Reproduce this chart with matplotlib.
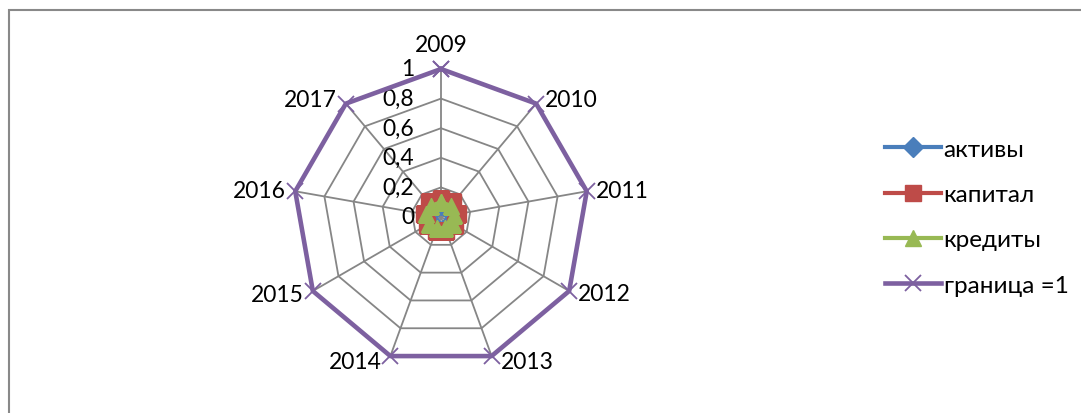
import numpy as np
import matplotlib.pyplot as plt
from matplotlib.patches import Rectangle

years = ["2009", "2010", "2011", "2012", "2013", "2014", "2015", "2016", "2017"]
aktivy = [0.08, 0.08, 0.08, 0.08, 0.08, 0.08, 0.08, 0.08, 0.08]
kapital = [0.12, 0.13, 0.12, 0.11, 0.1, 0.1, 0.11, 0.12, 0.13]
kredity = [0.1, 0.1, 0.09, 0.09, 0.08, 0.08, 0.09, 0.1, 0.1]
granica = [1, 1, 1, 1, 1, 1, 1, 1, 1]
r_ticks = [0, 0.2, 0.4, 0.6, 0.8, 1]
r_labels = ["0", "0,2", "0,4", "0,6", "0,8", "1"]

plt.rcParams['font.family'] = ['Lato', 'DejaVu Sans']
fs = 16.5

fig = plt.figure(figsize=(10.81, 4.14), dpi=100)
fig.patches.append(Rectangle((9 / 1081, -0.05), 1.1, 1.05 - 11 / 414 + 0.001,
                             transform=fig.transFigure, fill=False,
                             edgecolor='#898989', lw=1.5))

ax = fig.add_axes([293 / 1081, 48 / 414, 296 / 1081, 296 / 414], projection='polar')
ax.set_theta_zero_location('N')
ax.set_theta_direction(-1)
ax.set_ylim(0, 1)
ax.grid(False)
ax.spines['polar'].set_visible(False)
ax.set_xticks([])
ax.set_yticks([])
ax.patch.set_alpha(0)

n = len(years)
theta = np.arange(n) * 2 * np.pi / n
closed = np.append(theta, theta[0])

# polygon grid
grid_c = '#868686'
for r in r_ticks[1:]:
    ax.plot(closed, [r] * (n + 1), color=grid_c, lw=1.3, zorder=1)
for t in theta:
    ax.plot([t, t], [0, 1], color=grid_c, lw=1.3, zorder=1)

def close(v):
    return list(v) + [v[0]]

ax.plot(closed, close(aktivy), color='#4A7EBB', lw=3, marker='D', ms=10, label='активы', zorder=3)
ax.plot(closed, close(kapital), color='#BE4B48', lw=3, marker='s', ms=11, label='капитал', zorder=4)
ax.plot(closed, close(kredity), color='#98B954', lw=3, marker='^', ms=12, label='кредиты', zorder=5)
ax.plot(closed, close(granica), color='#7D60A0', lw=3.3, marker='x', ms=12, mew=1.3,
        label='граница =1', zorder=6, clip_on=False)

# radial labels
for r, lab in zip(r_ticks, r_labels):
    ax.annotate(lab, xy=(0, r), xytext=(-27, 0), textcoords='offset pixels',
                ha='right', va='center', fontsize=fs, annotation_clip=False)

# category labels
for t, lab in zip(theta, years):
    s, c = np.sin(t), np.cos(t)
    if abs(s) < 0.1:
        ax.annotate(lab, xy=(t, 1), xytext=(0, 25), textcoords='offset pixels',
                    ha='center', va='center', fontsize=fs, annotation_clip=False)
    else:
        ha = 'left' if s > 0 else 'right'
        ax.annotate(lab, xy=(t, 1), xytext=(9 if s > 0 else -9, 6 * c), textcoords='offset pixels',
                    ha=ha, va='center', fontsize=fs, annotation_clip=False)

fig.legend(loc='upper left', bbox_to_anchor=(875 / 1081, 1 - 130 / 414), frameon=False,
           fontsize=17.5, handlelength=2.3, handletextpad=0.12, labelspacing=1.0,
           borderaxespad=0)

fig.savefig('out.png', dpi=100)
